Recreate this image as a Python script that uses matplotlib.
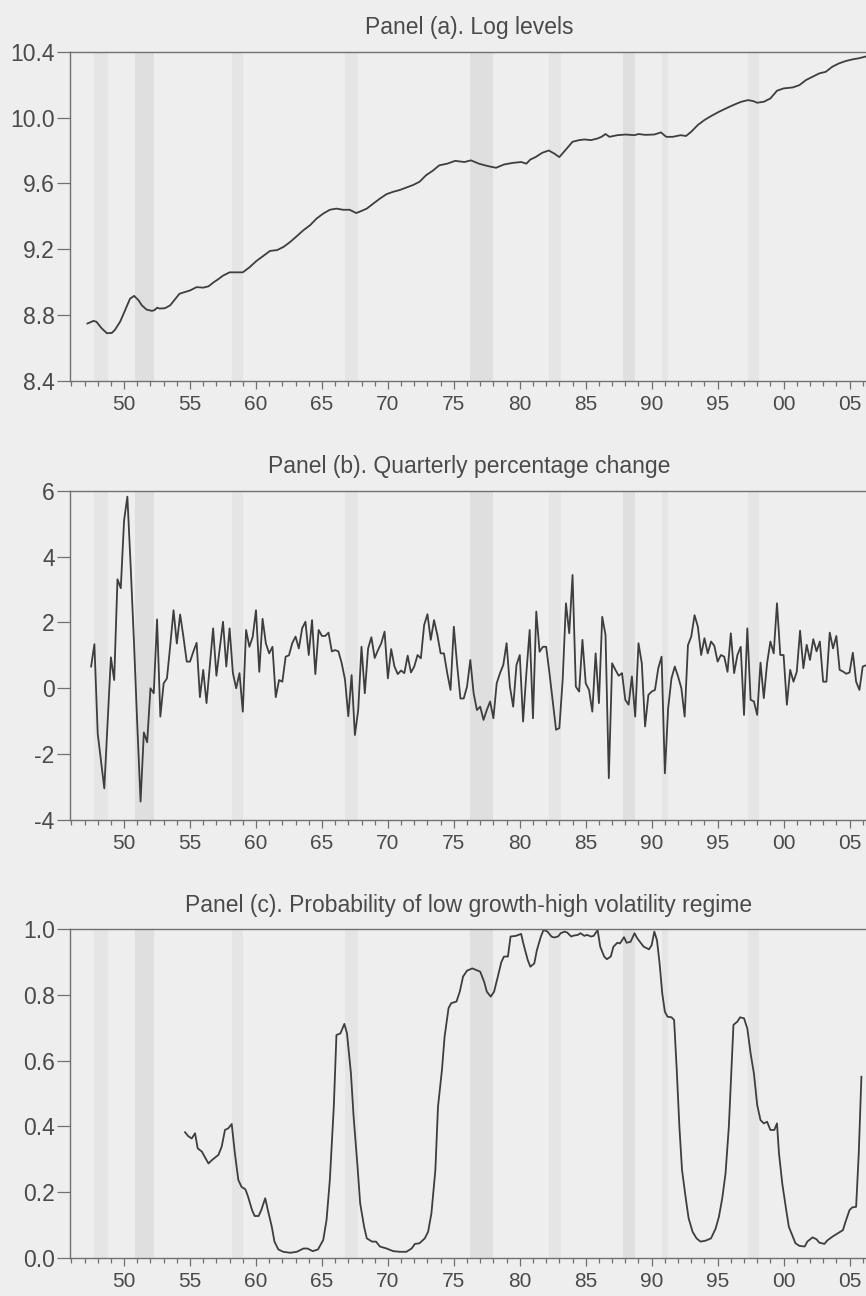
import matplotlib
matplotlib.use("Agg")
import matplotlib.pyplot as plt
import numpy as np
from matplotlib.ticker import MultipleLocator, FuncFormatter

plt.rcParams["font.family"] = ["Liberation Sans", "DejaVu Sans"]

# ---- data ------------------------------------------------------------------
# shaded periods (start, end, darker?)
shade_start = [1947.75, 1950.8, 1958.2, 1966.75, 1976.25, 1982.25, 1987.8, 1990.75, 1997.3]
shade_end = [1948.75, 1952.3, 1959.0, 1967.75, 1978.0, 1983.1, 1988.7, 1991.25, 1998.1]
shade_dark = [False, True, False, False, True, False, True, False, False]

# panel (a): log levels
level_years = [
    1947.22, 1947.68, 1947.9, 1948.3, 1948.7, 1949.07, 1949.3, 1949.7, 1950.08, 1950.45,
    1950.76, 1951.1, 1951.34, 1951.7, 1952.1, 1952.3, 1952.5, 1952.7, 1953.1, 1953.5,
    1953.9, 1954.2, 1954.6, 1955.0, 1955.5, 1956.0, 1956.4, 1956.8, 1957.1, 1957.5,
    1958.0, 1958.5, 1959.0, 1959.5, 1960.05, 1960.56, 1961.06, 1961.6, 1962.1, 1962.6,
    1963.1, 1963.6, 1964.1, 1964.6, 1965.1, 1965.6, 1966.1, 1966.6, 1967.1, 1967.6,
    1968.0, 1968.4, 1968.9, 1969.4, 1969.9, 1970.4, 1970.9, 1971.4, 1971.9, 1972.4,
    1972.9, 1973.4, 1973.9, 1974.5, 1975.1, 1975.8, 1976.3, 1976.9, 1977.6, 1978.2,
    1978.8, 1979.5, 1980.1, 1980.5, 1980.8, 1981.2, 1981.7, 1982.2, 1982.6, 1983.0,
    1983.5, 1984.0, 1984.5, 1984.9, 1985.4, 1985.9, 1986.2, 1986.5, 1986.8, 1987.4,
    1988.05, 1988.7, 1989.0, 1989.5, 1990.2, 1990.7, 1991.1, 1991.6, 1992.2, 1992.6,
    1993.0, 1993.5, 1994.0, 1994.5, 1995.1, 1995.8, 1996.3, 1996.8, 1997.3, 1997.7,
    1998.0, 1998.5, 1999.0, 1999.5, 2000.0, 2000.7, 2001.2, 2001.7, 2002.2, 2002.7,
    2003.2, 2003.7, 2004.2, 2004.7, 2005.2, 2005.7, 2006.2,
]
level_values = [
    8.749, 8.765, 8.76, 8.72, 8.69, 8.692, 8.71, 8.76, 8.83, 8.90,
    8.917, 8.89, 8.86, 8.834, 8.826, 8.83, 8.845, 8.84, 8.842, 8.86,
    8.90, 8.93, 8.94, 8.95, 8.97, 8.967, 8.975, 9.0, 9.016, 9.04,
    9.06, 9.06, 9.06, 9.09, 9.13, 9.16, 9.19, 9.195, 9.215, 9.245,
    9.28, 9.316, 9.346, 9.387, 9.417, 9.44, 9.447, 9.44, 9.44, 9.42,
    9.433, 9.447, 9.478, 9.508, 9.535, 9.549, 9.56, 9.575, 9.59, 9.61,
    9.65, 9.677, 9.71, 9.72, 9.737, 9.73, 9.74, 9.72, 9.705, 9.695,
    9.715, 9.725, 9.73, 9.72, 9.745, 9.76, 9.786, 9.80, 9.782, 9.76,
    9.806, 9.853, 9.863, 9.867, 9.863, 9.873, 9.883, 9.90, 9.883, 9.893,
    9.897, 9.893, 9.90, 9.895, 9.897, 9.91, 9.883, 9.883, 9.893, 9.888,
    9.914, 9.955, 9.985, 10.009, 10.035, 10.062, 10.08, 10.096, 10.106, 10.10,
    10.09, 10.096, 10.116, 10.163, 10.177, 10.183, 10.197, 10.228, 10.248, 10.268,
    10.278, 10.309, 10.329, 10.343, 10.353, 10.36, 10.37,
]

# panel (b): quarterly percentage change, 1947Q3 onwards
growth_start = 1947.5
growth = [
    0.66, 1.34, -1.37, -2.2, -3.04, -1.06, 0.94, 0.25, 3.31, 3.04,
    5.1, 5.82, 3.7, 1.4, -1.1, -3.44, -1.34, -1.64, 0.0, -0.15,
    2.09, -0.86, 0.15, 0.3, 1.3, 2.37, 1.36, 2.24, 1.56, 0.81,
    0.81, 1.11, 1.38, -0.27, 0.56, -0.45, 0.7, 1.82, 0.38, 1.21,
    2.02, 0.66, 1.82, 0.46, 0.0, 0.46, -0.71, 1.77, 1.26, 1.56,
    2.37, 0.5, 2.11, 1.36, 1.06,
    1.26, -0.27, 0.25, 0.2, 0.96, 1.0, 1.37, 1.57, 1.21, 1.82,
    2.02, 1.01, 2.07, 0.43, 1.77, 1.59, 1.59, 1.69, 1.12, 1.16,
    1.12, 0.76, 0.26, -0.85, 0.4, -1.42, -0.66, 1.26, -0.15, 1.21,
    1.55, 0.92, 1.16, 1.37, 1.72, 0.3, 1.19, 0.66, 0.43, 0.54,
    0.46, 0.99, 0.48, 0.66, 1.01, 0.91, 1.92, 2.25, 1.47, 2.07,
    1.62, 1.06, 1.06, 0.46, -0.05, 1.87, 0.71, -0.31, -0.31, 0.05,
    0.86, -0.15, -0.66, -0.56, -0.96, -0.66, -0.4, -0.91, 0.15, 0.46,
    0.71, 1.37, 0.05, -0.56, 0.71, 1.01, -1.01, 0.46, 1.77, -0.91,
    2.33, 1.11, 1.26, 1.26, 0.46, -0.4, -1.26, -1.21, 0.25, 2.58,
    1.67, 3.44, 0.05, -0.1, 1.47, 0.15, -0.05, -0.71, 1.06, -0.45,
    2.17, 1.62, -2.73, 0.76, 0.56, 0.38, 0.46, -0.35, -0.5, 0.36,
    -0.86, 1.37, 0.76, -1.16, -0.2, -0.1, -0.05, 0.61, 0.96, -2.58,
    -0.6, 0.3, 0.66, 0.36, 0.0, -0.86, 1.31, 1.57, 2.22, 1.87,
    1.01, 1.52, 1.06, 1.42, 1.29, 0.81, 1.01, 0.96, 0.5, 1.67,
    0.46, 1.01, 1.26, -0.81, 1.82, -0.35, -0.4, -0.81, 0.78, -0.3,
    0.76, 1.42, 1.06, 2.58, 1.01, 1.01, -0.5, 0.56, 0.2, 0.5,
    1.75, 0.61, 1.32, 0.86, 1.49, 1.12, 1.42, 0.2, 0.2, 1.69,
    1.21, 1.59, 0.56, 0.51, 0.44, 0.48, 1.08, 0.2, -0.05, 0.66,
    0.7,
]

# panel (c): probability of low growth-high volatility regime
prob_years = [
    1954.62, 1954.87, 1955.13, 1955.38, 1955.58, 1955.9, 1956.1, 1956.4, 1956.65, 1957.15,
    1957.4, 1957.65, 1957.9, 1958.16, 1958.4, 1958.66, 1958.9, 1959.2, 1959.4, 1959.7,
    1959.9, 1960.2, 1960.4, 1960.7, 1960.9, 1961.2, 1961.4, 1961.7, 1962.07, 1962.6,
    1963.1, 1963.6, 1963.9, 1964.3, 1964.7, 1965.1, 1965.35, 1965.6, 1965.9, 1966.1,
    1966.4, 1966.7, 1966.9, 1967.2, 1967.4, 1967.7, 1967.9, 1968.2, 1968.4, 1968.8,
    1969.1, 1969.4, 1969.9, 1970.4, 1970.9, 1971.4, 1971.8, 1972.05, 1972.4, 1972.8,
    1973.05, 1973.3, 1973.6, 1973.8, 1974.1, 1974.3, 1974.6, 1974.8, 1975.2, 1975.45,
    1975.7, 1976.0, 1976.4, 1977.0, 1977.3, 1977.5, 1977.8, 1978.05, 1978.3, 1978.6,
    1978.8, 1979.1, 1979.3, 1979.7, 1980.1, 1980.3, 1980.6, 1980.8, 1981.1, 1981.3,
    1981.6, 1981.8, 1982.1, 1982.4, 1982.6, 1982.9, 1983.1, 1983.4, 1983.6, 1983.9,
    1984.1, 1984.4, 1984.6, 1984.9, 1985.1, 1985.4, 1985.6, 1985.9, 1986.1, 1986.4,
    1986.6, 1986.9, 1987.1, 1987.4, 1987.6, 1987.9, 1988.1, 1988.4, 1988.7, 1988.9,
    1989.2, 1989.4, 1989.8, 1990.0, 1990.2, 1990.4, 1990.6, 1990.8, 1991.0, 1991.2,
    1991.5, 1991.7, 1991.9, 1992.1, 1992.3, 1992.6, 1992.8, 1993.1, 1993.4, 1993.7,
    1994.1, 1994.5, 1994.85, 1995.1, 1995.35, 1995.6, 1995.85, 1996.1, 1996.2, 1996.5,
    1996.7, 1997.0, 1997.25, 1997.5, 1997.75, 1998.0, 1998.25, 1998.5, 1998.75, 1999.0,
    1999.3, 1999.5, 1999.65, 1999.9, 2000.2, 2000.4, 2000.7, 2000.9, 2001.2, 2001.6,
    2001.8, 2002.2, 2002.5, 2002.7, 2003.1, 2003.3, 2003.7, 2004.1, 2004.5, 2004.7,
    2005.0, 2005.2, 2005.5, 2005.7, 2005.9,
]
prob_values = [
    0.382, 0.37, 0.363, 0.379, 0.333, 0.323, 0.308, 0.287, 0.297, 0.313,
    0.338, 0.389, 0.394, 0.407, 0.318, 0.237, 0.216, 0.208, 0.186, 0.145,
    0.127, 0.127, 0.145, 0.181, 0.145, 0.094, 0.049, 0.025, 0.018, 0.015,
    0.018, 0.028, 0.028, 0.02, 0.025, 0.054, 0.115, 0.237, 0.46, 0.678,
    0.683, 0.712, 0.683, 0.561, 0.43, 0.277, 0.165, 0.094, 0.059, 0.049,
    0.049, 0.034, 0.028, 0.02, 0.018, 0.018, 0.028, 0.042, 0.044, 0.059,
    0.079, 0.135, 0.267, 0.46, 0.572, 0.673, 0.76, 0.775, 0.78, 0.81,
    0.856, 0.874, 0.881, 0.871, 0.84, 0.81, 0.795, 0.81, 0.85, 0.90,
    0.917, 0.917, 0.978, 0.98, 0.986, 0.952, 0.907, 0.886, 0.896, 0.937,
    0.978, 0.998, 0.993, 0.978, 0.975, 0.978, 0.988, 0.993, 0.99, 0.978,
    0.981, 0.983, 0.988, 0.98, 0.983, 0.978, 0.98, 0.998, 0.947, 0.917,
    0.909, 0.917, 0.947, 0.959, 0.957, 0.976, 0.959, 0.962, 0.988, 0.973,
    0.957, 0.947, 0.939, 0.952, 0.993, 0.967, 0.896, 0.805, 0.749, 0.734,
    0.732, 0.724, 0.572, 0.399, 0.267, 0.176, 0.12, 0.079, 0.059, 0.049,
    0.052, 0.059, 0.089, 0.125, 0.181, 0.257, 0.399, 0.622, 0.709, 0.719,
    0.732, 0.729, 0.698, 0.622, 0.561, 0.465, 0.419, 0.409, 0.414, 0.389,
    0.389, 0.409, 0.318, 0.226, 0.145, 0.094, 0.064, 0.044, 0.036, 0.034,
    0.049, 0.062, 0.056, 0.046, 0.042, 0.052, 0.064, 0.074, 0.084, 0.11,
    0.145, 0.153, 0.155, 0.318, 0.551,
]

titles = [
    "Panel (a). Log levels",
    "Panel (b). Quarterly percentage change",
    "Panel (c). Probability of low growth-high volatility regime",
]

# ---- styling -----------------------------------------------------------------
BG = "#eeeeee"
SHADE_LIGHT = "#e5e5e5"
SHADE_DARK = "#dfdfdf"
LINE = "#3e3e3e"
SPINE = "#707070"
TEXT = "#4a4a4a"
W, H = 866, 1296


def panel(fig, top, bottom, left=70, right=868):
    return fig.add_axes([left / W, 1 - bottom / H, (right - left) / W, (bottom - top) / H])


def year_label(x, pos):
    return f"{int(round(x)) % 100:02d}"


def style(ax, title, ylim, ystep, yfmt):
    ax.set_facecolor(BG)
    for s0, s1, dark in zip(shade_start, shade_end, shade_dark):
        ax.axvspan(s0, s1, color=SHADE_DARK if dark else SHADE_LIGHT, lw=0, zorder=0)
    ax.set_xlim(1945.9, 2006.4)
    ax.set_ylim(*ylim)
    ax.xaxis.set_major_locator(MultipleLocator(5))
    ax.xaxis.set_minor_locator(MultipleLocator(1))
    ax.xaxis.set_major_formatter(FuncFormatter(year_label))
    ax.yaxis.set_major_locator(MultipleLocator(ystep))
    ax.yaxis.set_major_formatter(FuncFormatter(lambda v, p: yfmt.format(v).replace("\u2212", "-")))
    ax.tick_params(axis="x", which="major", direction="out", length=6, width=0.9,
                   color=SPINE, pad=4, labelsize=15, labelcolor=TEXT)
    ax.tick_params(axis="x", which="minor", direction="out", length=3.5, width=0.9, color=SPINE)
    ax.tick_params(axis="y", which="major", direction="out", length=9.5, width=0.9,
                   color=SPINE, pad=1.5, labelsize=16.5, labelcolor=TEXT)
    for side in ("left", "bottom", "top"):
        ax.spines[side].set_color(SPINE)
        ax.spines[side].set_linewidth(1.0)
    ax.spines["right"].set_visible(False)
    ax.set_title(title, fontsize=16.5, color=TEXT, pad=12.5)


fig = plt.figure(figsize=(W / 100, H / 100), dpi=100, facecolor=BG)

ax_a = panel(fig, 51.7, 381)
style(ax_a, titles[0], (8.4, 10.4), 0.4, "{:.1f}")
ax_a.plot(level_years, level_values, color=LINE, lw=1.3)

ax_b = panel(fig, 490.7, 820)
style(ax_b, titles[1], (-4, 6), 2, "{:.0f}")
growth_years = growth_start + 0.25 * np.arange(len(growth))
ax_b.plot(growth_years, growth, color=LINE, lw=1.3)

ax_c = panel(fig, 929.3, 1257.7)
style(ax_c, titles[2], (0, 1), 0.2, "{:.1f}")
ax_c.plot(prob_years, prob_values, color=LINE, lw=1.3)

fig.savefig("out.png", dpi=100, facecolor=BG)
